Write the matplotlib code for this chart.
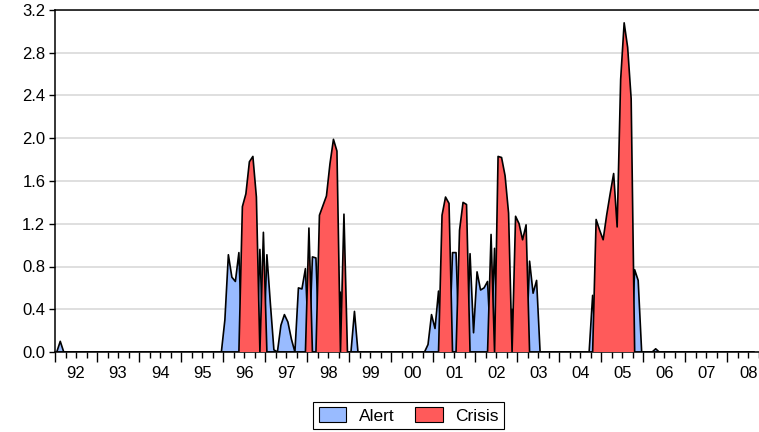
import matplotlib.pyplot as plt
import numpy as np
from matplotlib.patches import Patch

plt.rcParams['font.family'] = ['Liberation Sans', 'DejaVu Sans']

# monthly values, 1992M01 .. 2008M08 (one row per year)
alert = [
    0, 0.10, 0, 0, 0, 0, 0, 0, 0, 0, 0, 0,                      # 1992
    0, 0, 0, 0, 0, 0, 0, 0, 0, 0, 0, 0,                         # 1993
    0, 0, 0, 0, 0, 0, 0, 0, 0, 0, 0, 0,                         # 1994
    0, 0, 0, 0, 0, 0, 0, 0, 0, 0, 0, 0,                         # 1995
    0.30, 0.91, 0.70, 0.66, 0.93, 0, 0, 0, 0, 0, 0.96, 0,       # 1996
    0.91, 0.45, 0.02, 0, 0.25, 0.35, 0.28, 0.12, 0, 0.60, 0.59, 0.78,  # 1997
    0, 0.89, 0.88, 0, 0, 0, 0, 0, 0, 0.56, 0, 0,                # 1998
    0, 0.38, 0, 0, 0, 0, 0, 0, 0, 0, 0, 0,                      # 1999
    0, 0, 0, 0, 0, 0, 0, 0, 0, 0, 0.07, 0.35,                   # 2000
    0.22, 0.57, 0, 0, 0, 0.93, 0.93, 0, 0, 0, 0.92, 0.18,       # 2001
    0.75, 0.58, 0.60, 0.66, 0, 0.97, 0, 0, 0, 0, 0.40, 0,       # 2002
    0, 0, 0, 0.85, 0.55, 0.67, 0, 0, 0, 0, 0, 0,                # 2003
    0, 0, 0, 0, 0, 0, 0, 0, 0, 0.53, 0, 0,                      # 2004
    0, 0, 0, 0, 0, 0, 0, 0, 0, 0.77, 0.67, 0,                   # 2005
    0, 0, 0, 0.03, 0, 0, 0, 0, 0, 0, 0, 0,                      # 2006
    0, 0, 0, 0, 0, 0, 0, 0, 0, 0, 0, 0,                         # 2007
    0, 0, 0, 0, 0, 0, 0, 0,                                     # 2008
]
crisis = [
    0, 0, 0, 0, 0, 0, 0, 0, 0, 0, 0, 0,                         # 1992
    0, 0, 0, 0, 0, 0, 0, 0, 0, 0, 0, 0,                         # 1993
    0, 0, 0, 0, 0, 0, 0, 0, 0, 0, 0, 0,                         # 1994
    0, 0, 0, 0, 0, 0, 0, 0, 0, 0, 0, 0,                         # 1995
    0, 0, 0, 0, 0, 1.36, 1.48, 1.78, 1.83, 1.45, 0, 1.12,       # 1996
    0, 0, 0, 0, 0, 0, 0, 0, 0, 0, 0, 0,                         # 1997
    1.16, 0, 0, 1.28, 1.37, 1.46, 1.76, 1.99, 1.88, 0, 1.29, 0, # 1998
    0, 0, 0, 0, 0, 0, 0, 0, 0, 0, 0, 0,                         # 1999
    0, 0, 0, 0, 0, 0, 0, 0, 0, 0, 0, 0,                         # 2000
    0, 0, 1.28, 1.45, 1.39, 0, 0, 1.14, 1.40, 1.38, 0, 0,       # 2001
    0, 0, 0, 0, 1.10, 0, 1.83, 1.82, 1.65, 1.30, 0, 1.27,       # 2002
    1.20, 1.05, 1.19, 0, 0, 0, 0, 0, 0, 0, 0, 0,                # 2003
    0, 0, 0, 0, 0, 0, 0, 0, 0, 0, 1.24, 1.14,                   # 2004
    1.05, 1.28, 1.48, 1.67, 1.17, 2.55, 3.08, 2.85, 2.37, 0, 0, 0,  # 2005
    0, 0, 0, 0, 0, 0, 0, 0, 0, 0, 0, 0,                         # 2006
    0, 0, 0, 0, 0, 0, 0, 0, 0, 0, 0, 0,                         # 2007
    0, 0, 0, 0, 0, 0, 0, 0,                                     # 2008
]
years = list(range(1992, 2009))
year_labels = [f'{y % 100:02d}' for y in years]

blue = '#99BBFF'
red = '#FF5A5A'

t = 1992 + (np.arange(len(alert)) + 0.5) / 12

fig = plt.figure(figsize=(7.59, 4.32), dpi=100)
ax = fig.add_axes([55 / 759, 1 - 352 / 432, 1 - 55 / 759, 342 / 432])

ax.fill_between(t, 0, alert, facecolor=blue, edgecolor='none', zorder=2)
ax.plot(t, alert, color='black', lw=1.2, zorder=3)
ax.fill_between(t, 0, crisis, facecolor=red, edgecolor='none', zorder=4)
ax.plot(t, crisis, color='black', lw=1.2, zorder=5)

ax.set_xlim(1992, 1992 + (759 - 55) / 42.19)
ax.set_ylim(0, 3.2)

# y axis
yt = np.arange(0, 3.21, 0.4)
ax.set_yticks(yt)
ax.set_yticklabels([f'{v:.1f}' for v in yt])
ax.yaxis.grid(True, color='#D9D9D9', lw=1.2, zorder=0)
ax.set_axisbelow(True)

# x axis: year boundary ticks, quarter minor ticks, labels mid-year
ax.set_xticks(years)
ax.set_xticklabels([''] * len(years))
quarters = [y + q / 4 for y in years for q in (1, 2, 3)]
ax.set_xticks(quarters, minor=True)
ax.set_xticklabels([year_labels[i // 3] if i % 3 == 1 else '' for i in range(len(quarters))],
                   minor=True)

ax.tick_params(axis='x', which='major', length=7, width=1, direction='out')
ax.tick_params(axis='x', which='minor', length=4, width=1, direction='out', pad=6,
               labelsize=12)
ax.tick_params(axis='y', length=4, width=1, direction='out', labelsize=12, pad=3)

for s in ['left', 'top', 'bottom']:
    ax.spines[s].set_linewidth(1.1)
ax.spines['right'].set_visible(False)

handles = [Patch(facecolor=blue, edgecolor='black', lw=0.8, label='Alert'),
           Patch(facecolor=red, edgecolor='black', lw=0.8, label='Crisis')]
leg = fig.legend(handles=handles, loc='center', ncol=2,
                 bbox_to_anchor=(408.5 / 759, 1 - 415.5 / 432),
                 fancybox=False, edgecolor='black', framealpha=1, fontsize=12.5,
                 handlelength=1.6, handleheight=0.9, columnspacing=1.2,
                 handletextpad=0.7, borderpad=0.3, borderaxespad=0)
leg.get_frame().set_linewidth(0.8)

fig.savefig('out.png', dpi=100)
